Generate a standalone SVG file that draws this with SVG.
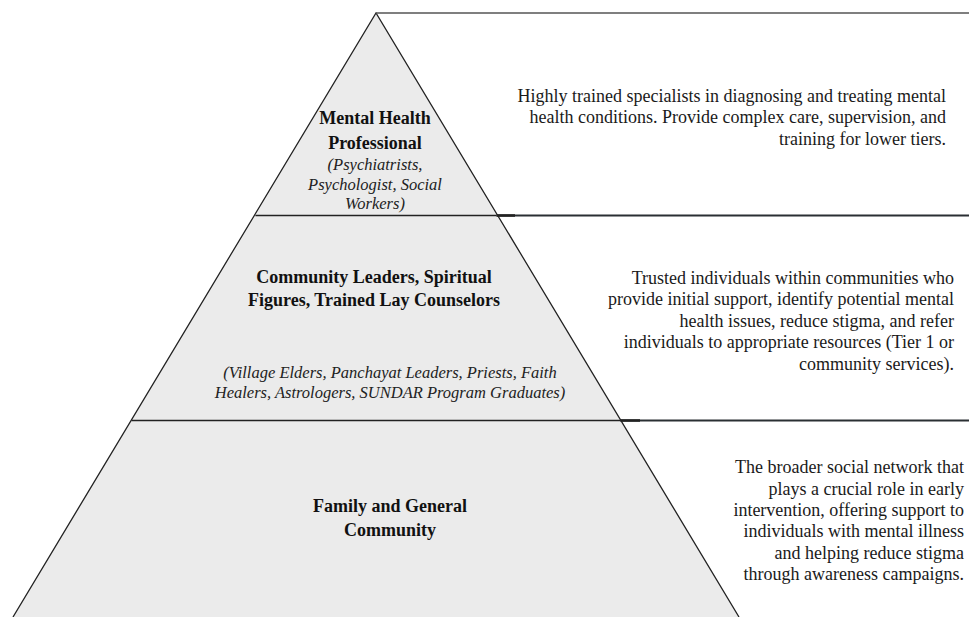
<svg xmlns="http://www.w3.org/2000/svg" width="969" height="617" viewBox="0 0 969 617">
<style>
.t{font-family:"Liberation Serif","Times New Roman",serif;fill:#111}
.b{font-weight:bold;font-size:18px;text-anchor:middle}
.i{font-style:italic;font-size:16.5px;text-anchor:middle;fill:#222}
.r{font-size:18px;text-anchor:end;fill:#1a1a1a}
.tier{fill:#ebebeb;stroke:none}
.edge{stroke:#222;stroke-width:1.3;fill:none}
.sep{stroke:#2a2f33;stroke-width:1.8;fill:none}
</style>
<rect width="969" height="617" fill="#ffffff"/>
<g id="tier1">
<polygon class="tier" points="376,13 255.4,215.5 496.6,215.5"/>
<text class="t b" x="375" y="124">Mental Health</text>
<text class="t b" x="375" y="149">Professional</text>
<text class="t i" x="375" y="170">(Psychiatrists,</text>
<text class="t i" x="375" y="190">Psychologist, Social</text>
<text class="t i" x="375" y="209">Workers)</text>
</g>
<g id="tier2">
<polygon class="tier" points="255.4,215.5 496.6,215.5 620.5,420.5 131.5,420.5"/>
<text class="t b" x="374" y="283">Community Leaders, Spiritual</text>
<text class="t b" x="374" y="306">Figures, Trained Lay Counselors</text>
<text class="t i" x="390" y="378">(Village Elders, Panchayat Leaders, Priests, Faith</text>
<text class="t i" x="390" y="398">Healers, Astrologers, SUNDAR Program Graduates)</text>
</g>
<g id="tier3">
<polygon class="tier" points="131.5,420.5 620.5,420.5 739,617 13,617"/>
<text class="t b" x="390" y="512">Family and General</text>
<text class="t b" x="390" y="536">Community</text>
</g>
<g id="desc1">
<text class="t r" x="946" y="102">Highly trained specialists in diagnosing and treating mental</text>
<text class="t r" x="946" y="123">health conditions. Provide complex care, supervision, and</text>
<text class="t r" x="946" y="145">training for lower tiers.</text>
</g>
<g id="desc2">
<text class="t r" x="954" y="284">Trusted individuals within communities who</text>
<text class="t r" x="954" y="305">provide initial support, identify potential mental</text>
<text class="t r" x="954" y="327">health issues, reduce stigma, and refer</text>
<text class="t r" x="954" y="348">individuals to appropriate resources (Tier 1 or</text>
<text class="t r" x="954" y="370">community services).</text>
</g>
<g id="desc3">
<text class="t r" x="964" y="473">The broader social network that</text>
<text class="t r" x="964" y="495">plays a crucial role in early</text>
<text class="t r" x="964" y="516">intervention, offering support to</text>
<text class="t r" x="964" y="537">individuals with mental illness</text>
<text class="t r" x="964" y="559">and helping reduce stigma</text>
<text class="t r" x="964" y="580">through awareness campaigns.</text>
</g>
<g id="connectors">
<polyline class="edge" points="13,617 376,13 739,617"/>
<line class="edge" x1="255.4" y1="215.5" x2="496.6" y2="215.5"/>
<line class="edge" x1="131.5" y1="420.5" x2="620.5" y2="420.5"/>
<line stroke="#555" stroke-width="1.5" x1="376" y1="13" x2="969" y2="13"/>
<line class="sep" x1="496.6" y1="215.5" x2="969" y2="215.5"/>
<line class="sep" x1="620.5" y1="420.5" x2="969" y2="420.5"/>
<line stroke="#222" stroke-width="2.6" x1="496.6" y1="215.5" x2="515" y2="215.5"/>
<line stroke="#222" stroke-width="2.6" x1="620.5" y1="420.5" x2="640" y2="420.5"/>
</g>
</svg>
